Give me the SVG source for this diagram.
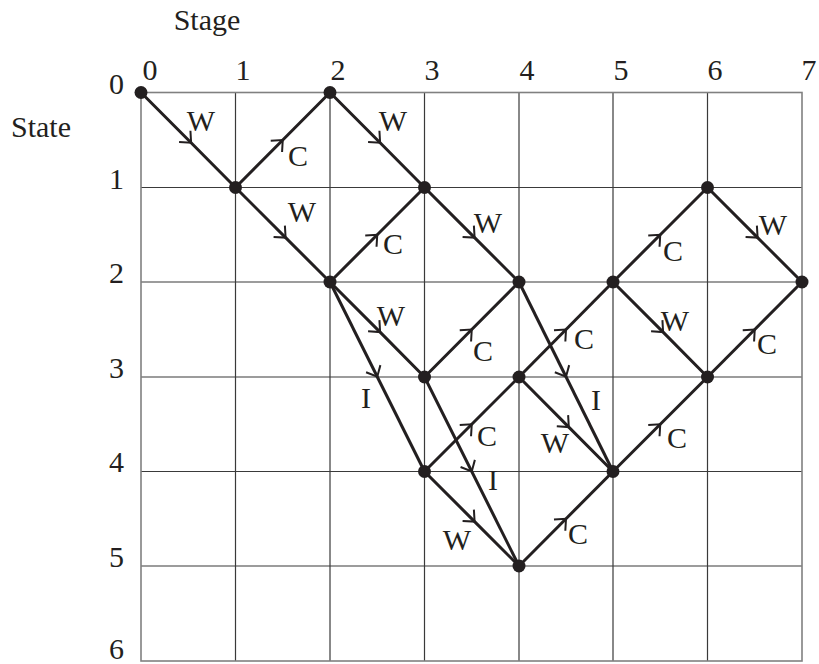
<svg xmlns="http://www.w3.org/2000/svg" width="819" height="664" viewBox="0 0 819 664">
<style>
text{font-family:"Liberation Serif","Times New Roman",serif;font-size:30px;fill:#231f20}
.lbl{text-anchor:middle}
.row{text-anchor:end}
.grid{stroke:#3a3a3a;stroke-width:1.2;fill:none}
.border{stroke:#808080;stroke-width:1.6;fill:none}
.e{stroke:#231f20;stroke-width:3;fill:none;marker-mid:url(#chev)}
.n{fill:#231f20}
</style>
<defs>
<marker id="chev" markerUnits="userSpaceOnUse" orient="auto" refX="0" refY="0" markerWidth="20" markerHeight="20" viewBox="-12 -10 14 20" overflow="visible">
<path d="M-9,-8 L0,0 L-9,8" fill="none" stroke="#231f20" stroke-width="2"/>
</marker>
</defs>
<g id="grid">
<path class="grid" d="M235.5,92.5V661 M330,92.5V661 M424.5,92.5V661 M519,92.5V661 M613,92.5V661 M707.5,92.5V661 M141,187.5H802 M141,282H802 M141,377H802 M141,471.5H802 M141,566H802"/>
<rect class="border" x="141" y="92.5" width="661" height="568.5"/>
</g>
<g id="axis-labels">
<text x="207" y="30" class="lbl">Stage</text>
<text x="41" y="137" class="lbl">State</text>
<text x="150" y="80" class="lbl">0</text>
<text x="243" y="80" class="lbl">1</text>
<text x="338" y="80" class="lbl">2</text>
<text x="432" y="80" class="lbl">3</text>
<text x="527" y="80" class="lbl">4</text>
<text x="621" y="80" class="lbl">5</text>
<text x="715" y="80" class="lbl">6</text>
<text x="809" y="80" class="lbl">7</text>
<text x="124" y="94" class="row">0</text>
<text x="124" y="189" class="row">1</text>
<text x="124" y="283" class="row">2</text>
<text x="124" y="378" class="row">3</text>
<text x="124" y="472" class="row">4</text>
<text x="124" y="567" class="row">5</text>
<text x="124" y="659" class="row">6</text>
</g>
<g id="connectors">
<path class="e" d="M141,92.5 L191.1,142.8 L235.5,187.5"/>
<path class="e" d="M235.5,187.5 L282.75,140 L330,92.5"/>
<path class="e" d="M235.5,187.5 L285.6,237.6 L330,282"/>
<path class="e" d="M330,92.5 L380.1,142.8 L424.5,187.5"/>
<path class="e" d="M330,282 L377.25,234.75 L424.5,187.5"/>
<path class="e" d="M424.5,187.5 L474.6,237.6 L519,282"/>
<path class="e" d="M330,282 L380.1,332.1 L424.5,377"/>
<path class="e" d="M330,282 L377.25,376.75 L424.5,471.5"/>
<path class="e" d="M424.5,377 L471.75,329.5 L519,282"/>
<path class="e" d="M424.5,377 L471.75,471.5 L519,566"/>
<path class="e" d="M424.5,471.5 L471.75,424.25 L519,377"/>
<path class="e" d="M424.5,471.5 L474.6,521.6 L519,566"/>
<path class="e" d="M519,282 L566,376.75 L613,471.5"/>
<path class="e" d="M519,377 L566,329.5 L613,282"/>
<path class="e" d="M519,377 L568.8,427.1 L613,471.5"/>
<path class="e" d="M519,566 L566,518.75 L613,471.5"/>
<path class="e" d="M613,282 L660.25,234.75 L707.5,187.5"/>
<path class="e" d="M613,282 L663.1,332.1 L707.5,377"/>
<path class="e" d="M613,471.5 L660.25,424.25 L707.5,377"/>
<path class="e" d="M707.5,187.5 L757.6,237.6 L802,282"/>
<path class="e" d="M707.5,377 L754.75,329.5 L802,282"/>
</g>
<g id="edge-labels">
<text x="201" y="131" class="lbl">W</text>
<text x="298" y="166" class="lbl">C</text>
<text x="302" y="222" class="lbl">W</text>
<text x="393" y="131" class="lbl">W</text>
<text x="393" y="254" class="lbl">C</text>
<text x="488" y="233" class="lbl">W</text>
<text x="391" y="326" class="lbl">W</text>
<text x="366" y="408" class="lbl">I</text>
<text x="483" y="361" class="lbl">C</text>
<text x="493" y="490" class="lbl">I</text>
<text x="487" y="446" class="lbl">C</text>
<text x="457" y="550" class="lbl">W</text>
<text x="596" y="410" class="lbl">I</text>
<text x="584" y="349" class="lbl">C</text>
<text x="555" y="453" class="lbl">W</text>
<text x="578" y="544" class="lbl">C</text>
<text x="673" y="261" class="lbl">C</text>
<text x="675" y="331" class="lbl">W</text>
<text x="677" y="448" class="lbl">C</text>
<text x="773" y="235" class="lbl">W</text>
<text x="767" y="354" class="lbl">C</text>
</g>
<g id="node-0-0"><circle class="n" cx="141" cy="92.5" r="6.5"/></g>
<g id="node-1-1"><circle class="n" cx="235.5" cy="187.5" r="6.5"/></g>
<g id="node-2-0"><circle class="n" cx="330" cy="92.5" r="6.5"/></g>
<g id="node-2-2"><circle class="n" cx="330" cy="282" r="6.5"/></g>
<g id="node-3-1"><circle class="n" cx="424.5" cy="187.5" r="6.5"/></g>
<g id="node-3-3"><circle class="n" cx="424.5" cy="377" r="6.5"/></g>
<g id="node-3-4"><circle class="n" cx="424.5" cy="471.5" r="6.5"/></g>
<g id="node-4-2"><circle class="n" cx="519" cy="282" r="6.5"/></g>
<g id="node-4-3"><circle class="n" cx="519" cy="377" r="6.5"/></g>
<g id="node-4-5"><circle class="n" cx="519" cy="566" r="6.5"/></g>
<g id="node-5-2"><circle class="n" cx="613" cy="282" r="6.5"/></g>
<g id="node-5-4"><circle class="n" cx="613" cy="471.5" r="6.5"/></g>
<g id="node-6-1"><circle class="n" cx="707.5" cy="187.5" r="6.5"/></g>
<g id="node-6-3"><circle class="n" cx="707.5" cy="377" r="6.5"/></g>
<g id="node-7-2"><circle class="n" cx="802" cy="282" r="6.5"/></g>
</svg>
